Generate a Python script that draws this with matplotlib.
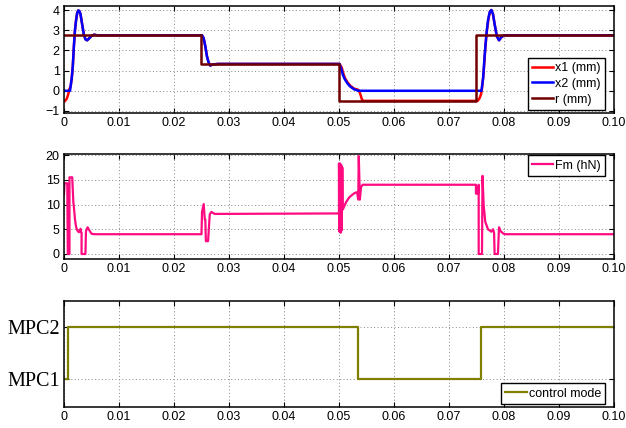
import matplotlib
matplotlib.use("Agg")
import matplotlib.pyplot as plt

# ---- data ----
t_x2 = [0, 0.0011, 0.0014, 0.0016, 0.0018, 0.0020, 0.0022, 0.0024, 0.0026, 0.0028,
        0.0030, 0.0033, 0.0036, 0.0039, 0.0042, 0.0046, 0.0050, 0.0055, 0.0060,
        0.0251, 0.0254, 0.0257, 0.0260, 0.0263, 0.0266, 0.0270, 0.0280,
        0.0501, 0.0504, 0.0507, 0.0510, 0.0515, 0.0520, 0.0527, 0.0535,
        0.0759, 0.0762, 0.0765, 0.0768, 0.0771, 0.0774, 0.0777, 0.0780, 0.0783,
        0.0787, 0.0791, 0.0795, 0.0800, 0.1]
x2_vals = [0, 0, 0.6, 1.2, 2.2, 3.0, 3.5, 3.85, 3.98, 3.95,
           3.8, 3.3, 2.8, 2.55, 2.5, 2.6, 2.72, 2.78, 2.75,
           2.75, 2.6, 2.2, 1.7, 1.4, 1.25, 1.3, 1.33,
           1.33, 1.1, 0.8, 0.6, 0.38, 0.22, 0.08, 0.0,
           0.0, 0.6, 1.8, 2.8, 3.5, 3.9, 4.0, 3.8, 3.3,
           2.7, 2.5, 2.65, 2.75, 2.75]

t_x1 = [0.0002, 0.0005, 0.0008, 0.0010, 0.0012, 0.0014, 0.0016, 0.0018, 0.0020, 0.0022,
        0.0024, 0.0026, 0.0028, 0.0030, 0.0033, 0.0036, 0.0039, 0.0042, 0.0046, 0.0050,
        0.0055, 0.0060, 0.0251, 0.0254, 0.0257, 0.0260, 0.0263, 0.0266, 0.0270, 0.0280,
        0.0501, 0.0505, 0.0508, 0.0511, 0.0516, 0.0521, 0.0528, 0.0535, 0.0538, 0.0542,
        0.0545, 0.0752, 0.0755, 0.0758, 0.0760, 0.0763, 0.0766, 0.0769, 0.0772, 0.0775,
        0.0777, 0.0780, 0.0783, 0.0787, 0.0791, 0.0795, 0.0800, 0.1]
x1_vals = [-0.5, -0.4, -0.15, 0.1, 0.2, 0.6, 1.2, 2.2, 3.0, 3.5,
           3.85, 3.98, 3.95, 3.8, 3.3, 2.8, 2.55, 2.5, 2.6, 2.72,
           2.78, 2.75, 2.75, 2.6, 2.2, 1.7, 1.4, 1.25, 1.3, 1.33,
           1.33, 1.15, 0.85, 0.62, 0.4, 0.24, 0.1, 0.05, -0.1, -0.45,
           -0.5, -0.5, -0.4, -0.2, 0.1, 0.9, 2.1, 3.0, 3.6, 3.95,
           4.0, 3.8, 3.3, 2.7, 2.5, 2.65, 2.75, 2.75]

t_r = [0, 0.025, 0.025, 0.050, 0.050, 0.075, 0.075, 0.1]
r_vals = [2.75, 2.75, 1.33, 1.33, -0.5, -0.5, 2.75, 2.75]

t_fm = [0, 0.0001, 0.0006, 0.0007, 0.0010, 0.0010, 0.0015, 0.0017, 0.0018, 0.0020,
        0.0022, 0.0024, 0.0027, 0.0029, 0.0030, 0.0031, 0.0032, 0.0032, 0.0039, 0.0040,
        0.0043, 0.0046, 0.0050, 0.0055,
        0.0250, 0.0251, 0.0254, 0.0256, 0.0257, 0.0258, 0.0262, 0.0265, 0.0268, 0.0274,
        0.0500, 0.0500, 0.0501, 0.0502, 0.0503, 0.0504, 0.0505, 0.0506, 0.0507,
        0.0513, 0.0519, 0.0528, 0.0533, 0.0535, 0.0536, 0.0538, 0.0540, 0.0543,
        0.0749, 0.0749, 0.0753, 0.0754, 0.0754, 0.0760, 0.0761, 0.0763, 0.0766, 0.0771,
        0.0777, 0.0780, 0.0782, 0.0783, 0.0789, 0.0791, 0.0794, 0.0798, 0.0801, 0.1]
fm_vals = [12.0, 14.3, 14.3, 0, 0, 15.5, 15.5, 10.5, 9.5, 7.0,
           5.5, 4.8, 4.4, 4.6, 5.1, 4.5, 4.3, 0, 0, 4.6,
           5.4, 4.8, 4.1, 4.0,
           4.0, 8.5, 10.1, 7.0, 7.0, 2.6, 2.6, 8.0, 8.5, 8.1,
           8.2, 18.3, 4.5, 18.3, 4.3, 18.0, 4.8, 17.5, 9.0,
           10.5, 11.5, 12.3, 12.5, 11.0, 19.8, 11.0, 13.5, 14.0,
           14.0, 12.2, 12.2, 14.0, 0, 0, 15.8, 10.0, 6.5, 5.0,
           4.5, 5.0, 4.3, 0, 0, 5.4, 4.6, 4.2, 4.0, 4.0]

t_mode = [0, 0.0008, 0.0008, 0.0535, 0.0535, 0.0759, 0.0759, 0.1]
mode_vals = [1, 1, 2, 2, 1, 1, 2, 2]

xticks = [0, 0.01, 0.02, 0.03, 0.04, 0.05, 0.06, 0.07, 0.08, 0.09, 0.1]
xtick_labels = ['0', '0.01', '0.02', '0.03', '0.04', '0.05', '0.06', '0.07', '0.08', '0.09', '0.10']

plt.rcParams['font.family'] = ['Liberation Sans', 'DejaVu Sans']

fig = plt.figure(figsize=(6.26, 4.28), dpi=100)
ax1 = fig.add_axes([0.1022, 0.736, 0.8786, 0.250])
ax2 = fig.add_axes([0.1022, 0.395, 0.8786, 0.245])
ax3 = fig.add_axes([0.1022, 0.049, 0.8786, 0.248])


def style(ax):
    ax.set_xlim(0, 0.1)
    ax.set_xticks(xticks)
    ax.set_xticklabels(xtick_labels)
    ax.grid(True, linestyle=(0, (1, 2.5)), color='#888888', linewidth=0.7)
    ax.tick_params(direction='in', top=True, right=True, length=3.5, width=0.8,
                   labelsize=9, pad=3)
    for s in ax.spines.values():
        s.set_linewidth(1.1)


def add_legend(ax, loc, anchor, spacing=0.3):
    leg = ax.legend(loc=loc, bbox_to_anchor=anchor, fontsize=9, fancybox=False,
                    edgecolor='black', framealpha=1, borderaxespad=0,
                    handlelength=1.7, handletextpad=0.15, labelspacing=spacing,
                    borderpad=0.35)
    leg.get_frame().set_linewidth(1.0)


ax1.plot(t_x1, x1_vals, color='#ff0000', lw=1.8, label='x1 (mm)')
ax1.plot(t_x2, x2_vals, color='#0000ff', lw=1.8, label='x2 (mm)')
ax1.plot(t_r, r_vals, color='#700000', lw=1.8, label='r (mm)')
ax1.set_ylim(-1.1, 4.2)
ax1.set_yticks([-1, 0, 1, 2, 3, 4])
ax1.set_yticklabels(['\u22121', '0', '1', '2', '3', '4'])
style(ax1)
add_legend(ax1, 'lower right', (0.984, 0.028))

ax2.plot(t_fm, fm_vals, color='#ff0a80', lw=1.6, label='Fm (hN)')
ax2.set_ylim(-1, 20.2)
ax2.set_yticks([0, 5, 10, 15, 20])
style(ax2)
add_legend(ax2, 'upper right', (0.984, 0.99))

ax3.plot(t_mode, mode_vals, color='#808000', lw=1.6, label='control mode')
ax3.set_ylim(0.47, 2.5)
ax3.set_yticks([1, 2])
style(ax3)
ax3.set_yticklabels(['MPC1', 'MPC2'], family=['Liberation Serif'], fontsize=14.5)
add_legend(ax3, 'lower right', (0.984, 0.028))

fig.savefig('out.png', dpi=100)
